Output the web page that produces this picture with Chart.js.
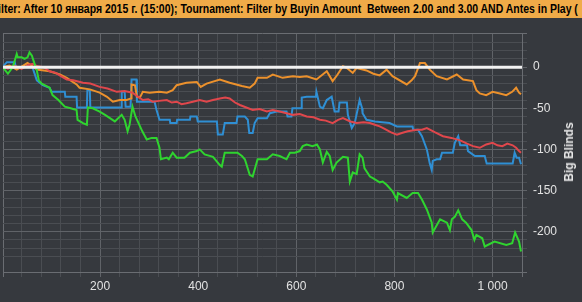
<!DOCTYPE html>
<html>
<head>
<meta charset="utf-8">
<script src="https://cdn.jsdelivr.net/npm/chart.js@4.4.1/dist/chart.umd.min.js"></script>
<style>
html,body{margin:0;padding:0;background:#36393e;overflow:hidden}
#wrap{position:relative;width:582px;height:302px}
#bar{position:absolute;left:0;top:0;width:582px;height:18px;background:#f0ab48;overflow:hidden;z-index:2}
#bar span{position:absolute;left:0;top:1px;font:bold 12px "Liberation Sans";line-height:16px;color:#000;white-space:pre;transform-origin:0 0}
#ytitle{position:absolute;left:569px;top:152px;font:bold 12px "Liberation Sans";color:#e8e8e8;white-space:nowrap;transform:translate(-50%,-50%) rotate(-90deg)}
canvas{position:absolute;left:0;top:0}
</style>
</head>
<body>
<div id="wrap">
  <div id="bar"><span id="filter">Filter: After 10 января 2015 г. (15:00); Tournament: Filter by Buyin Amount  Between 2.00 and 3.00 AND Antes in Play (</span></div>
  <canvas id="c" width="582" height="302"></canvas>
  <div id="ytitle">Big Blinds</div>
</div>
<script>
// hands range / bb range
const handRange = [2, 1060];
const bbRange = [-249, 41.5];
const zeroLine = [[2, 0], [1060, 0]];

// [hand, big blinds]
const greenLine = [[1,0],[12,-8],[22,0],[30,16],[32,12],[40,12],[46,10],[52,12],[56,18],[61,14],[63,10],[71,-4],[75,-16],[81,-20],[97,-25],[103,-34],[115,-40],[128,-48],[140,-50],[152,-52],[154,-64],[165,-68],[173,-70],[175,-49],[185,-50],[199,-54],[210,-58],[220,-62],[230,-66],[244,-58],[250,-64],[256,-78],[260,-70],[266,-48],[272,-60],[286,-78],[295,-88],[305,-86],[315,-86],[321,-98],[324,-112],[336,-110],[340,-112],[348,-104],[356,-110],[372,-110],[383,-104],[397,-102],[403,-100],[413,-106],[430,-109],[444,-119],[448,-121],[454,-104],[480,-104],[489,-108],[495,-112],[505,-131],[511,-133],[521,-112],[540,-112],[552,-106],[566,-108],[580,-112],[587,-104],[597,-104],[607,-102],[613,-96],[621,-94],[633,-96],[642,-94],[648,-100],[654,-116],[662,-103],[668,-108],[674,-125],[682,-116],[695,-109],[705,-110],[709,-139],[715,-128],[723,-130],[729,-106],[735,-110],[739,-123],[750,-133],[756,-135],[770,-140],[776,-139],[784,-143],[796,-151],[805,-161],[807,-153],[825,-159],[837,-153],[848,-153],[856,-161],[866,-173],[876,-189],[878,-201],[893,-185],[907,-189],[913,-198],[917,-185],[923,-182],[930,-174],[938,-185],[946,-189],[957,-198],[963,-210],[967,-204],[979,-208],[984,-218],[1004,-212],[1028,-216],[1040,-214],[1046,-201],[1054,-212],[1058,-224]];

const blueLine = [[1,0],[10,6],[26,6],[28,0],[62,0],[71,-16],[83,-22],[97,-25],[101,-30],[128,-30],[129,-36],[152,-36],[153,-49],[173,-49],[174,-28],[179,-28],[180,-49],[243,-49],[244,-30],[250,-30],[252,-48],[262,-48],[264,-15],[274,-15],[275,-42],[311,-42],[315,-52],[321,-64],[342,-64],[343,-68],[356,-68],[357,-64],[383,-64],[384,-60],[397,-60],[399,-66],[438,-66],[440,-82],[450,-82],[454,-68],[478,-68],[480,-60],[495,-60],[501,-64],[504,-80],[511,-80],[515,-68],[521,-62],[540,-62],[546,-56],[560,-54],[580,-54],[582,-60],[590,-60],[592,-50],[610,-50],[611,-37],[621,-36],[640,-36],[641,-30],[648,-48],[654,-50],[662,-40],[672,-36],[678,-54],[686,-54],[688,-43],[703,-43],[705,-58],[713,-74],[719,-68],[729,-40],[734,-50],[735,-56],[743,-64],[760,-66],[790,-68],[805,-72],[837,-72],[838,-76],[848,-76],[856,-84],[866,-100],[872,-117],[876,-125],[878,-114],[886,-112],[893,-112],[897,-104],[919,-104],[923,-92],[930,-84],[934,-95],[948,-95],[950,-102],[964,-108],[984,-108],[988,-117],[1041,-117],[1045,-104],[1049,-110],[1054,-110],[1058,-118]];

const redLine = [[1,0],[12,-2],[25,2],[40,-2],[55,3],[63,4],[72,1],[85,0],[97,-5],[110,-7],[120,-11],[132,-15],[145,-16],[165,-19],[180,-20],[199,-24],[215,-26],[234,-30],[250,-29],[266,-31],[275,-35],[287,-40],[298,-39],[307,-42],[320,-41],[336,-40],[346,-43],[356,-42],[366,-45],[376,-44],[389,-42],[403,-40],[417,-42],[430,-40],[444,-38],[455,-37],[464,-38],[475,-43],[485,-46],[498,-49],[511,-52],[525,-51],[540,-54],[552,-52],[566,-54],[580,-56],[593,-58],[607,-57],[621,-60],[635,-61],[648,-64],[660,-65],[674,-68],[685,-64],[695,-62],[710,-66],[723,-68],[737,-67],[750,-68],[760,-70],[770,-72],[780,-75],[792,-79],[805,-82],[815,-80],[827,-78],[846,-76],[856,-76],[866,-74],[882,-79],[899,-84],[916,-86],[934,-89],[948,-93],[960,-96],[974,-98],[987,-94],[1000,-92],[1010,-95],[1020,-96],[1030,-93],[1041,-95],[1048,-98],[1054,-102],[1058,-104]];

const orangeLine = [[1,0],[15,2],[30,-3],[52,5],[60,2],[71,-3],[97,-5],[118,-9],[132,-13],[152,-21],[158,-25],[179,-27],[199,-31],[214,-36],[226,-42],[240,-40],[254,-40],[263,-38],[264,-21],[271,-22],[275,-36],[281,-37],[287,-30],[301,-31],[321,-30],[336,-31],[348,-28],[356,-22],[376,-19],[397,-18],[405,-24],[417,-20],[444,-15],[464,-19],[489,-23],[505,-25],[515,-20],[521,-13],[540,-13],[552,-9],[572,-13],[593,-11],[607,-12],[621,-11],[641,-15],[662,-5],[674,-17],[684,-9],[695,1],[703,-1],[715,-7],[723,-1],[743,-4],[757,-8],[770,-10],[784,-3],[796,-11],[825,-21],[835,-16],[842,-11],[852,5],[862,5],[872,-3],[886,-11],[907,-15],[927,-9],[940,-15],[960,-17],[967,-28],[974,-32],[987,-34],[1000,-30],[1015,-32],[1028,-34],[1040,-30],[1048,-25],[1054,-31],[1058,-33]];

// header text: cut the "Fi" off the left like in the picture
var span = document.getElementById('filter')
var mctx = document.createElement('canvas').getContext('2d')
mctx.font = 'bold 12px "Liberation Sans"'
var full = span.textContent
var pre = mctx.measureText('Fi').width
var upto = mctx.measureText(full.slice(0, full.indexOf('Play') + 4)).width - pre
var k = 572 / upto
span.style.transform = 'translateX(' + (1 - pre * k) + 'px) scaleX(' + k + ')'

function pts(a) {
    return a.map(function (p) { return { x: p[0], y: p[1] } })
}
function fmt(v) {
    return String(v).replace(/\B(?=(\d{3})+(?!\d))/g, ' ')
}
function isEdge(v, r) {
    return Math.abs(v - r[0]) < 0.6 || Math.abs(v - r[1]) < 0.6
}

var minor = '#4a4d52', major = '#606368', edge = '#6a6d72'

new Chart(document.getElementById('c'), {
    type: 'line',
    data: {
        datasets: [
            { data: pts(zeroLine), borderColor: '#f2f2f2', borderWidth: 3, order: 0 },
            { data: pts(greenLine), borderColor: '#2fd42f', order: 1 },
            { data: pts(redLine), borderColor: '#e0474c', order: 2 },
            { data: pts(orangeLine), borderColor: '#ec912c', order: 3 },
            { data: pts(blueLine), borderColor: '#2f8fd4', order: 4 }
        ]
    },
    options: {
        responsive: false,
        animation: false,
        plugins: { legend: { display: false }, tooltip: { enabled: false } },
        elements: { point: { radius: 0 }, line: { borderWidth: 2, tension: 0 } },
        layout: { padding: { left: 3, top: 33, right: 0, bottom: 0 } },
        scales: {
            x: {
                type: 'linear',
                min: handRange[0], max: handRange[1],
                afterFit: function (s) { s.height = 30 },
                ticks: {
                    stepSize: 40, autoSkip: false, maxRotation: 0, padding: 2,
                    color: '#e2e2e2', font: { family: 'Liberation Sans', size: 12 },
                    callback: function (v) { return v % 200 === 0 ? fmt(v) : '' }
                },
                grid: {
                    tickLength: 5,
                    color: function (c) {
                        var v = c.tick ? c.tick.value : 0
                        if (isEdge(v, handRange)) return edge
                        return v % 200 === 0 ? major : minor
                    }
                },
                border: { color: edge }
            },
            y: {
                position: 'right',
                min: bbRange[0], max: bbRange[1],
                afterFit: function (s) { s.width = 60 },
                ticks: {
                    stepSize: 10, autoSkip: false, padding: 6,
                    color: '#e2e2e2', font: { family: 'Liberation Sans', size: 12 },
                    callback: function (v) { return v % 50 === 0 ? String(v) : '' }
                },
                grid: {
                    tickLength: 5,
                    color: function (c) {
                        var v = c.tick ? c.tick.value : 0
                        if (isEdge(v, bbRange)) return edge
                        return v % 50 === 0 ? major : minor
                    }
                },
                border: { color: edge }
            }
        }
    }
})
</script>
</body>
</html>
